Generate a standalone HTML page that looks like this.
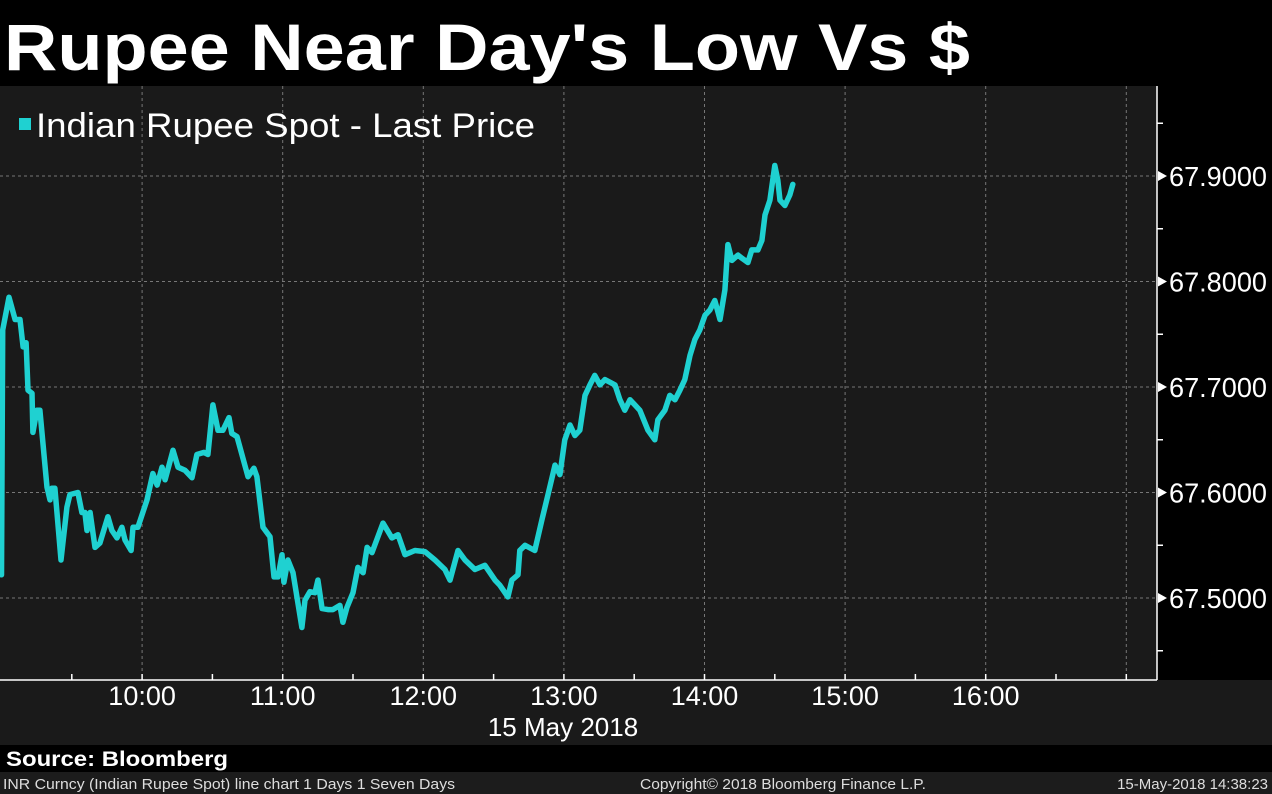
<!DOCTYPE html>
<html><head><meta charset="utf-8"><style>
body{margin:0;width:1272px;height:794px;background:#000;overflow:hidden;font-family:"Liberation Sans",sans-serif}
svg{display:block}
</style></head><body>
<svg id="c" width="1272" height="794">
<rect x="0" y="0" width="1272" height="86" fill="#000"/>
<text x="4" y="70" fill="#fff" font-size="66" font-weight="bold" textLength="966" lengthAdjust="spacingAndGlyphs">Rupee Near Day's Low Vs $</text>
<rect x="0" y="86" width="1157" height="594" fill="#1a1a1a"/>
<rect x="1157" y="86" width="115" height="594" fill="#000"/>
<rect x="0" y="680" width="1272" height="65" fill="#1a1a1a"/>
<rect x="0" y="745" width="1272" height="27" fill="#000"/>
<text x="6" y="766" fill="#fff" font-size="21" font-weight="bold" textLength="222" lengthAdjust="spacingAndGlyphs">Source: Bloomberg</text>
<rect x="0" y="772" width="1272" height="22" fill="#1c1c1c"/>
<text x="3" y="789" fill="#ddd" font-size="15" textLength="452" lengthAdjust="spacingAndGlyphs">INR Curncy (Indian Rupee Spot) line chart 1 Days 1 Seven Days</text>
<text x="640" y="789" fill="#ddd" font-size="15" textLength="286" lengthAdjust="spacingAndGlyphs">Copyright© 2018 Bloomberg Finance L.P.</text>
<text x="1268" y="789" fill="#ddd" font-size="15" text-anchor="end">15-May-2018 14:38:23</text>
<g id="grid"></g>
<g id="axes"></g>
<rect x="19" y="118" width="12" height="12" fill="#1fd1d1"/>
<text x="36" y="137" fill="#fff" font-size="34" textLength="499" lengthAdjust="spacingAndGlyphs">Indian Rupee Spot - Last Price</text>
<text x="563" y="736" fill="#fff" font-size="26" text-anchor="middle">15 May 2018</text>
</svg>
<script>
const minutes=[0,0.5,3.2,5.8,7.9,9.2,10.5,11.3,13,13.4,15.1,16.4,19.4,20.7,21.5,22.8,25.4,27.9,29.2,32.6,34.3,35.6,36.5,37.8,39.9,42,45.4,47.1,49.3,51.4,52.7,55.3,56.1,58.2,62.1,64.6,66.4,68.5,69.8,73.2,75.3,78.3,81.3,83.4,86.4,88.1,90.2,92.4,94.5,97.1,98.3,100.5,105.2,107.7,109,111.6,114.6,116.3,118,119.7,120.5,122.2,124.4,128.2,129.5,131.6,133.8,135,136.8,139.3,141.4,144.4,145.7,147.4,150,152.1,154.3,156,158.1,162.8,166.6,169.2,172.2,176.4,180.7,185,189.2,191.4,194.8,197.8,202,206.3,210.6,212.7,216.1,217.8,220.4,221.2,223.4,227.6,230.6,233.2,236.2,238.3,240.4,242.6,244.7,246.8,249,251.1,253.2,255.4,257.5,261.8,263.9,266,268.2,272.4,275.9,278.8,280.1,283.1,285.2,287.4,289.5,291.6,293.8,295.9,298,300.2,302.3,304.4,306.6,308.7,310,311.7,314.3,316,318.5,320.2,322.8,324.5,325.8,327.9,330,331.3,332.2,334.3,336.4,337.7];
const prices=[67.522,67.754,67.785,67.764,67.764,67.738,67.742,67.697,67.694,67.657,67.678,67.678,67.605,67.593,67.604,67.604,67.536,67.586,67.598,67.600,67.581,67.581,67.564,67.581,67.548,67.552,67.577,67.564,67.557,67.567,67.555,67.545,67.567,67.567,67.593,67.618,67.607,67.624,67.612,67.640,67.624,67.621,67.614,67.636,67.638,67.636,67.683,67.659,67.659,67.671,67.656,67.653,67.615,67.623,67.615,67.567,67.558,67.520,67.520,67.541,67.515,67.536,67.524,67.472,67.498,67.506,67.505,67.517,67.490,67.489,67.489,67.493,67.477,67.491,67.505,67.529,67.524,67.548,67.543,67.571,67.557,67.560,67.541,67.545,67.544,67.536,67.527,67.517,67.545,67.536,67.527,67.531,67.517,67.512,67.501,67.517,67.522,67.545,67.550,67.545,67.574,67.598,67.626,67.617,67.650,67.664,67.654,67.659,67.692,67.702,67.711,67.702,67.707,67.702,67.688,67.678,67.688,67.678,67.659,67.650,67.669,67.678,67.692,67.688,67.697,67.707,67.730,67.745,67.754,67.768,67.773,67.782,67.764,67.792,67.835,67.820,67.825,67.822,67.818,67.830,67.830,67.839,67.863,67.877,67.910,67.896,67.877,67.872,67.882,67.892];
const yTicks=[67.5,67.6,67.7,67.8,67.9];
const yTickLabels=["67.5000","67.6000","67.7000","67.8000","67.9000"];
const xTicks=[60,120,180,240,300,360,420];
const xTickLabels=["10:00","11:00","12:00","13:00","14:00","15:00","16:00"];
const NS="http://www.w3.org/2000/svg";
const xs=m=>1.5+m*140.6/60;
const ys=v=>176+(67.9-v)*1055;
function mk(tag,attrs,parent){const e=document.createElementNS(NS,tag);for(const k in attrs)e.setAttribute(k,attrs[k]);parent.appendChild(e);return e;}
const grid=document.getElementById('grid'),axes=document.getElementById('axes'),svg=document.getElementById('c');
yTicks.forEach((v,i)=>{
 const g=mk('line',{x1:0,x2:1157,y1:ys(v),y2:ys(v),stroke:'#777','stroke-width':1,'stroke-dasharray':'3,3'},grid);
 
 
 const a=mk('polygon',{points:`1158,${ys(v)-5} 1167,${ys(v)} 1158,${ys(v)+5}`,fill:'#fff'},axes);
 
 
 const t=mk('text',{x:1169,y:ys(v)+10,fill:'#fff','font-size':28,textLength:98,lengthAdjust:'spacingAndGlyphs'},axes);
 t.textContent=yTickLabels[i];
 
 
});
for(let v=67.45;v<67.99;v+=0.1){
 const m=mk('line',{x1:1157,x2:1163,y1:ys(v),y2:ys(v),stroke:'#fff','stroke-width':1.5},axes);
 
 
}
xTicks.concat([480]).forEach((m,i)=>{
 const g=mk('line',{x1:xs(m),x2:xs(m),y1:86,y2:680,stroke:'#777','stroke-width':1,'stroke-dasharray':'3,3'},grid);
 
 
});
for(let m=30;m<=480;m+=30){
 const t=mk('line',{x1:xs(m),x2:xs(m),y1:680,y2:674,stroke:'#fff','stroke-width':1.5},axes);
 
 
}
xTicks.forEach((m,i)=>{
 const t=mk('text',{x:xs(m),y:705,fill:'#fff','font-size':27,'text-anchor':'middle'},axes);
 t.textContent=xTickLabels[i];
 
 
});
const xl=mk('line',{x1:0,x2:1157,y1:680,y2:680,stroke:'#fff','stroke-width':1.5},axes);


const yl=mk('line',{x1:1157,x2:1157,y1:86,y2:680,stroke:'#fff','stroke-width':1.5},axes);


const pts=minutes.map((m,i)=>xs(m).toFixed(1)+','+ys(prices[i]).toFixed(1)).join(' ');
const line=mk('polyline',{points:pts,fill:'none',stroke:'#1fd1d1','stroke-width':5.5,'stroke-linejoin':'round','stroke-linecap':'round'},svg);


</script>
</body></html>
